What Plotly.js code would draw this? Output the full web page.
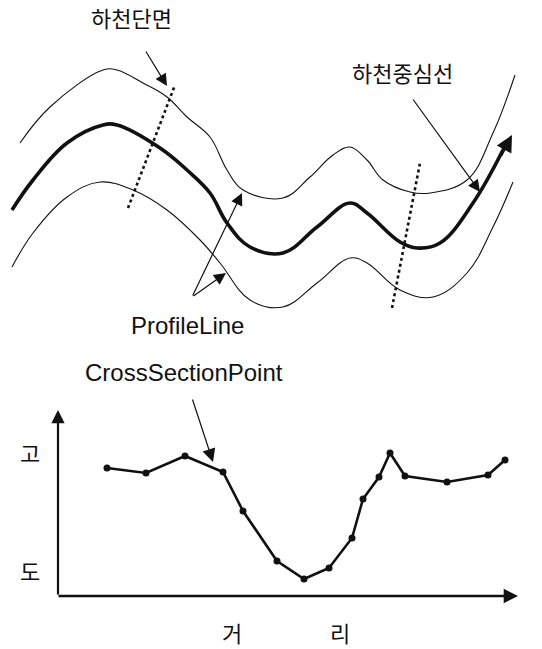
<!DOCTYPE html>
<html>
<head>
<meta charset="utf-8">
<script src="https://cdn.plot.ly/plotly-3.0.1.min.js"></script>
<style>html,body{margin:0;padding:0;background:#fff;}#chart{width:542px;height:649px;}</style>
</head>
<body>
<div id="chart"></div>
<script>
// ---- Plan view (page units, y downward) ----
const bankTopX = [20, 50, 103, 117, 143, 167, 187, 210, 227, 243, 283, 310, 333, 350, 367, 383, 410, 430, 467, 493, 515];
const bankTopY = [143, 107, 70, 70, 83, 97, 117, 137, 170, 190, 198, 177, 155, 147, 160, 180, 192, 193, 180, 133, 75];
const centerX = [12, 33, 67, 103, 117, 160, 187, 210, 227, 250, 283, 317, 350, 367, 400, 417, 440, 473, 505];
const centerY = [210, 180, 143, 125, 125, 148, 170, 193, 223, 247, 253, 227, 203, 213, 242, 248, 243, 203, 146];
const bankBotX = [12, 33, 67, 100, 133, 167, 200, 220, 250, 283, 317, 350, 367, 400, 433, 467, 493, 513];
const bankBotY = [267, 233, 197, 182, 190, 210, 240, 263, 300, 307, 283, 258, 263, 290, 297, 273, 227, 182];
const section1X = [128, 175];
const section1Y = [208, 85];
const section2X = [392, 420];
const section2Y = [308, 163];

// ---- Profile (distance vs elevation, arbitrary units) ----
const distance  = [49, 88, 127, 165, 185, 219, 246, 271, 294, 305, 321, 332, 347, 389, 430, 447];
const elevation = [127, 122, 139, 123, 84, 34, 16, 27, 57, 96, 118, 142, 119, 113, 120, 135];

const fontKR = '"Noto Sans CJK KR", "Noto Sans", sans-serif';
const fontEN = '"Liberation Sans", Arial, sans-serif';

const traces = [
  {x: bankTopX, y: bankTopY, mode: 'lines', line: {color: '#111', width: 1.1, shape: 'spline', smoothing: 1.1}, xaxis: 'x', yaxis: 'y', hoverinfo: 'skip'},
  {x: centerX, y: centerY, mode: 'lines', line: {color: '#111', width: 3.6, shape: 'spline', smoothing: 1.1}, xaxis: 'x', yaxis: 'y', hoverinfo: 'skip'},
  {x: bankBotX, y: bankBotY, mode: 'lines', line: {color: '#111', width: 1.1, shape: 'spline', smoothing: 1.1}, xaxis: 'x', yaxis: 'y', hoverinfo: 'skip'},
  {x: section1X, y: section1Y, mode: 'lines', line: {color: '#111', width: 2.6, dash: 'dot'}, xaxis: 'x', yaxis: 'y', hoverinfo: 'skip'},
  {x: section2X, y: section2Y, mode: 'lines', line: {color: '#111', width: 2.6, dash: 'dot'}, xaxis: 'x', yaxis: 'y', hoverinfo: 'skip'},
  {x: distance, y: elevation, mode: 'lines+markers', line: {color: '#111', width: 2.6}, marker: {color: '#111', size: 7}, xaxis: 'x2', yaxis: 'y2', hoverinfo: 'skip'}
];

function arrow(x, y, ax, ay, opts) {
  return Object.assign({x: x, y: y, ax: ax, ay: ay, xref: 'x', yref: 'y', axref: 'x', ayref: 'y',
    text: '', showarrow: true, arrowhead: 2, arrowsize: 2, arrowwidth: 1.2, arrowcolor: '#111'}, opts || {});
}
function label(x, y, text, font, size) {
  return {x: x, y: y, xref: 'x', yref: 'y', text: text, showarrow: false,
    font: {family: font, size: size, color: '#111'}, xanchor: 'center', yanchor: 'middle'};
}

const annotations = [
  label(131, 17, '하천단면', fontKR, 22),
  label(402, 72, '하천중심선', fontKR, 22),
  label(187, 325, 'ProfileLine', fontEN, 24),
  label(184, 372, 'CrossSectionPoint', fontEN, 24),
  label(30, 452, '고', fontKR, 22),
  label(30, 570, '도', fontKR, 22),
  label(232, 632, '거', fontKR, 22),
  label(340, 632, '리', fontKR, 22),
  arrow(167, 86, 145, 50),
  arrow(480, 192, 412, 98),
  arrow(242, 193, 192, 297),
  arrow(226, 273, 192, 297),
  arrow(213, 462, 192, 398, {arrowsize: 2.2}),
  // centerline arrowhead
  arrow(512, 135, 500, 157, {arrowwidth: 3, arrowsize: 1.1}),
  // profile axes
  arrow(58, 410, 58, 596, {arrowwidth: 2.2, arrowsize: 1.2, arrowhead: 2}),
  arrow(518, 596, 57, 596, {arrowwidth: 2.6, arrowsize: 1.1, arrowhead: 2})
];

const layout = {
  width: 542, height: 649,
  margin: {l: 0, r: 0, t: 0, b: 0},
  paper_bgcolor: '#fff', plot_bgcolor: 'rgba(0,0,0,0)',
  showlegend: false,
  xaxis: {range: [0, 542], domain: [0, 1], visible: false, fixedrange: true},
  yaxis: {range: [649, 0], domain: [0, 1], visible: false, fixedrange: true},
  xaxis2: {range: [0, 459], domain: [58/542, 517/542], visible: false, anchor: 'y2'},
  yaxis2: {range: [0, 185], domain: [(649-595)/649, (649-410)/649], visible: false, anchor: 'x2'},
  annotations: annotations
};

Plotly.newPlot('chart', traces, layout, {displayModeBar: false, staticPlot: true});
</script>
</body>
</html>
